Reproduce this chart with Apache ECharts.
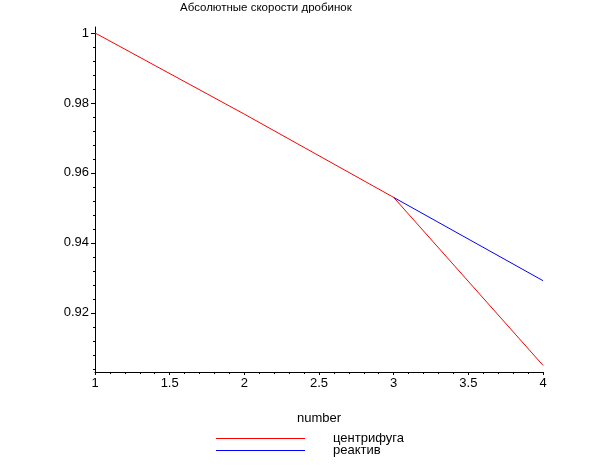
<!DOCTYPE html>
<html>
<head>
<meta charset="utf-8">
<script src="https://cdn.jsdelivr.net/npm/echarts@6/dist/echarts.min.js"></script>
<style>html,body{margin:0;padding:0;background:#fff}#c{width:612px;height:475px}</style>
</head>
<body>
<div id="c"></div>
<script>
var titleText = 'Абсолютные скорости дробинок';
var xName = 'number';
var seriesNames = ['центрифуга', 'реактив'];
var redX = [1, 2, 3, 4];
var redY = [1.0, 0.9768, 0.9530, 0.9050];
var blueX = [3, 4];
var blueY = [0.9530, 0.9292];
var yMajorTicks = [0.92, 0.94, 0.96, 0.98, 1.0];
var yMinorTicks = [0.904, 0.908, 0.912, 0.916, 0.924, 0.928, 0.932, 0.936, 0.944, 0.948, 0.952, 0.956,
  0.964, 0.968, 0.972, 0.976, 0.984, 0.988, 0.992, 0.996];
var yMin = 0.9031, yMax = 1.0017;
var xMin = 1, xMax = 4, xStep = 0.5;

function pairs(xs, ys) { return xs.map(function (x, i) { return [x, ys[i]]; }); }

var font = 'Liberation Sans, Arial, sans-serif';
function legendFor(name, top) {
  return {
    orient: 'vertical', left: 216, top: top, itemGap: 0, padding: 0,
    itemWidth: 89, itemHeight: 1, icon: 'rect',
    data: [name],
    textStyle: {fontFamily: font, fontSize: 13, color: '#000', lineHeight: 12, padding: [0, 0, 0, 23]}
  };
}
var chart = echarts.init(document.getElementById('c'), null, {renderer: 'canvas'});
chart.setOption({
  animation: false,
  backgroundColor: '#fff',
  title: {
    text: titleText, left: 180, top: 2, padding: 0,
    textStyle: {fontFamily: font, fontSize: 11.5, fontWeight: 'normal', color: '#000'}
  },
  grid: {left: 95, right: 69, top: 27, bottom: 103},
  xAxis: {
    type: 'value', min: xMin, max: xMax, interval: xStep,
    name: xName, nameLocation: 'middle', nameGap: 40,
    nameTextStyle: {fontFamily: font, fontSize: 13, color: '#000'},
    axisLine: {lineStyle: {color: '#000', width: 1}},
    axisTick: {show: true, length: 3, lineStyle: {color: '#000'}},
    minorTick: {show: true, splitNumber: 5, length: 2, lineStyle: {color: '#000'}},
    axisLabel: {fontFamily: font, fontSize: 13, color: '#000', margin: 5},
    splitLine: {show: false}
  },
  yAxis: [{
    type: 'value', min: yMin, max: yMax,
    axisLine: {show: true, lineStyle: {color: '#000', width: 1}},
    axisTick: {show: true, length: 4, customValues: yMajorTicks, lineStyle: {color: '#000'}},
    axisLabel: {fontFamily: font, fontSize: 13, color: '#000', margin: 6, customValues: yMajorTicks,
      formatter: function (v) { return String(+v.toFixed(4)); }},
    splitLine: {show: false}
  }, {
    type: 'value', min: yMin, max: yMax, position: 'left',
    axisLine: {show: false},
    axisTick: {show: true, length: 2, customValues: yMinorTicks, lineStyle: {color: '#000'}},
    axisLabel: {show: false},
    splitLine: {show: false}
  }],
  legend: [legendFor(seriesNames[0], 432), legendFor(seriesNames[1], 444)],
  series: [{
    name: seriesNames[0], type: 'line', data: pairs(redX, redY), yAxisIndex: 0,
    showSymbol: false, symbol: 'none', lineStyle: {color: '#ff0000', width: 1}, itemStyle: {color: '#ff0000'}
  }, {
    name: seriesNames[1], type: 'line', data: pairs(blueX, blueY), yAxisIndex: 0,
    showSymbol: false, symbol: 'none', lineStyle: {color: '#0000ff', width: 1}, itemStyle: {color: '#0000ff'}
  }]
});
</script>
</body>
</html>
